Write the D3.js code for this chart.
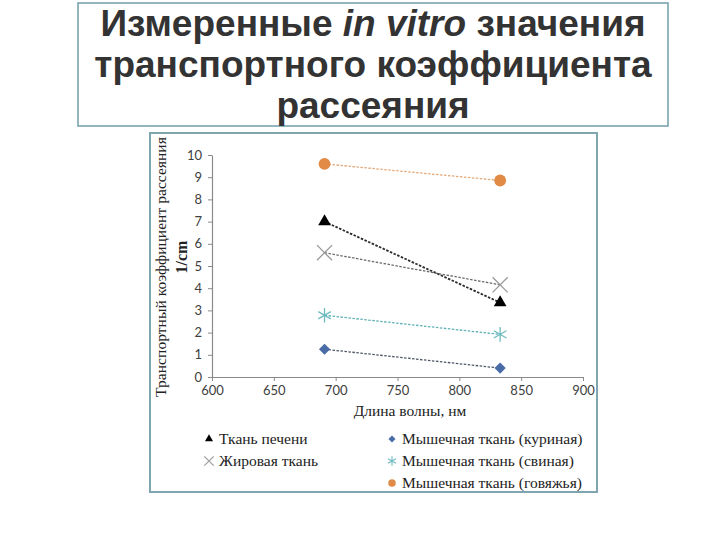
<!DOCTYPE html>
<html><head><meta charset="utf-8">
<script src="https://cdn.jsdelivr.net/npm/d3@7"></script>
<style>body{margin:0;background:#fff}svg{display:block}</style>
</head><body>
<script>
// ---- data ----
const wavelengths = [691, 833];
const seriesNames = ["Ткань печени", "Жировая ткань", "Мышечная ткань (куриная)", "Мышечная ткань (свиная)", "Мышечная ткань (говяжья)"];
const liver   = [7.0, 3.35];
const fat     = [5.6, 4.15];
const chicken = [1.25, 0.4];
const pork    = [2.78, 1.92];
const beef    = [9.6, 8.85];
const xTicks = [600, 650, 700, 750, 800, 850, 900];
const yTicks = [0, 1, 2, 3, 4, 5, 6, 7, 8, 9, 10];
const titleLines = [["Измеренные ", "in vitro", " значения"], ["транспортного коэффициента"], ["рассеяния"]];
const yTitle = ["Транспортный коэффициент рассеяния", "1/cm"];
const xTitle = "Длина волны, нм";

const svg = d3.select("body").append("svg").attr("width", 720).attr("height", 540);

// title box
svg.append("rect").attr("x", 78).attr("y", 3).attr("width", 590).attr("height", 123)
  .attr("fill", "none").attr("stroke", "#6f9da9").attr("stroke-width", 1.5);
const tt = svg.append("text").attr("text-anchor", "middle")
  .attr("font-family", "'Liberation Sans', Arial, sans-serif").attr("font-weight", "bold")
  .attr("font-size", 37).attr("fill", "#333");
titleLines.forEach((ln, i) => {
  const t = tt.append("tspan").attr("x", 373).attr("y", 36 + i * 41);
  ln.forEach(part => {
    t.append("tspan").attr("font-style", part === "in vitro" ? "italic" : "normal").text(part);
  });
});

// chart box
svg.append("rect").attr("x", 150).attr("y", 133).attr("width", 447).attr("height", 359)
  .attr("fill", "#fff").attr("stroke", "#7fa5b0").attr("stroke-width", 2);

const x = d3.scaleLinear().domain([600, 900]).range([212, 583]);
const y = d3.scaleLinear().domain([0, 10]).range([377, 155]);

const axisColor = "#8a8a8a";
const gx = svg.append("g").attr("transform", `translate(0,${y(0)})`)
  .call(d3.axisBottom(x).tickValues(xTicks).tickSize(4).tickSizeOuter(0).tickPadding(5));
const gy = svg.append("g").attr("transform", `translate(${x(600)},0)`)
  .call(d3.axisLeft(y).tickValues(yTicks).tickSize(4).tickSizeOuter(0).tickPadding(6));
[gx, gy].forEach(g => {
  g.select(".domain").attr("stroke", axisColor).attr("stroke-width", 1.2);
  g.selectAll(".tick line").attr("stroke", axisColor);
  g.selectAll(".tick text").attr("font-family", "Lato, 'Liberation Sans', sans-serif")
    .attr("font-size", 13).attr("fill", "#404040");
});

// axis titles
svg.append("text").attr("transform", `translate(166,267) rotate(-90)`).attr("text-anchor", "middle")
  .attr("font-family", "'Liberation Serif', 'Times New Roman', serif").attr("font-size", 15.6)
  .attr("fill", "#222").text(yTitle[0]);
svg.append("text").attr("transform", `translate(187,257) rotate(-90)`).attr("text-anchor", "middle")
  .attr("font-family", "'Liberation Serif', 'Times New Roman', serif").attr("font-size", 16)
  .attr("font-weight", "bold").attr("fill", "#222").text(yTitle[1]);
svg.append("text").attr("x", 410).attr("y", 416).attr("text-anchor", "middle")
  .attr("font-family", "'Liberation Serif', 'Times New Roman', serif").attr("font-size", 15.5)
  .attr("fill", "#222").text(xTitle);

// series
const series = [
  {name: seriesNames[0], vals: liver,   line: "#2a2a2a", sym: d3.symbolTriangle, fill: "#000", stroke: "none", size: 70, lw: 1.8},
  {name: seriesNames[1], vals: fat,     line: "#6b6b6b", sym: d3.symbolTimes, fill: "none", stroke: "#9a9a9a", size: 150, lw: 1.3},
  {name: seriesNames[2], vals: chicken, line: "#4d5566", sym: d3.symbolDiamond2, fill: "#4a6ca6", stroke: "none", size: 80, lw: 1.3},
  {name: seriesNames[3], vals: pork,    line: "#5fb0b4", sym: d3.symbolAsterisk, fill: "none", stroke: "#6fbcc0", size: 150, lw: 1.3},
  {name: seriesNames[4], vals: beef,    line: "#e2a878", sym: d3.symbolCircle, fill: "#e08a45", stroke: "none", size: 110, lw: 1.3}
];
const line = d3.line().x((d, i) => x(wavelengths[i])).y(d => y(d));
series.forEach(s => {
  svg.append("path").attr("d", line(s.vals)).attr("fill", "none")
    .attr("stroke", s.line).attr("stroke-width", s.lw).attr("stroke-dasharray", "2.5,1.5");
});
series.forEach(s => {
  svg.selectAll(null).data(s.vals).enter().append("path")
    .attr("d", d3.symbol().type(s.sym).size(s.size))
    .attr("transform", (d, i) => `translate(${x(wavelengths[i])},${y(d)})`)
    .attr("fill", s.fill).attr("stroke", s.stroke).attr("stroke-width", 1.3);
});

// legend
const legendPos = [[209, 439], [209, 461], [392, 439], [392, 461], [392, 483]];
series.forEach((s, i) => {
  const [lx, ly] = legendPos[i];
  svg.append("path").attr("d", d3.symbol().type(s.sym).size(s.size * 0.4))
    .attr("transform", `translate(${lx},${ly})`)
    .attr("fill", s.fill).attr("stroke", s.stroke).attr("stroke-width", 1.1);
  svg.append("text").attr("x", lx + 10).attr("y", ly + 5)
    .attr("font-family", "'Liberation Serif', 'Times New Roman', serif").attr("font-size", 15.5)
    .attr("fill", "#222").text(s.name);
});
</script>
</body></html>
